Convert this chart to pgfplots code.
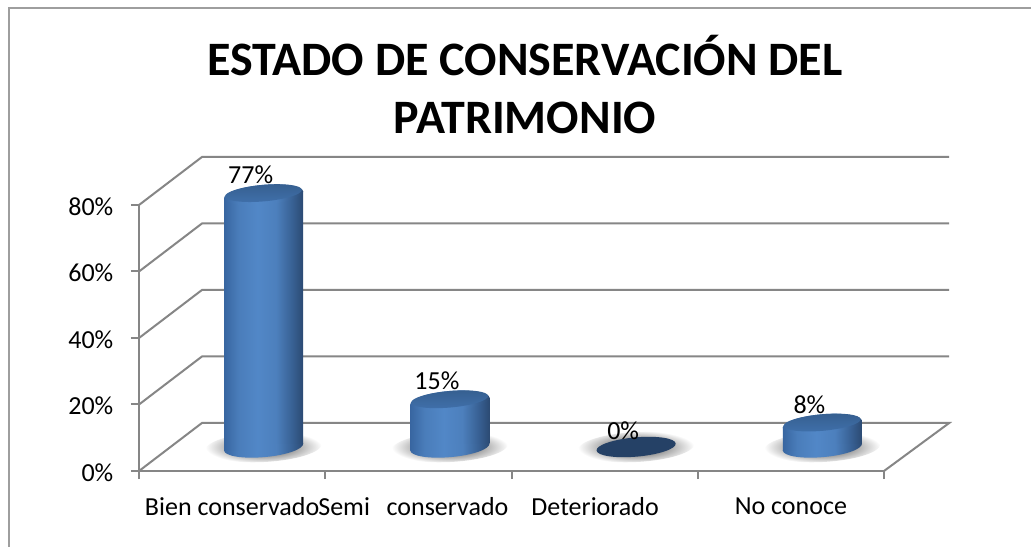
\documentclass[border=0pt]{standalone}
\usepackage{pgfplots}
\pgfplotsset{compat=1.18}
\usepackage{fontspec}
\setmainfont{Carlito}
\pgfkeys{/pgf/number format/assume math mode=true}
\definecolor{gridc}{HTML}{868686}
\definecolor{zerodark}{HTML}{254166}
\pgfdeclarehorizontalshading{cylbody}{100bp}{%
 rgb(0bp)=(0.22,0.40,0.63);
 rgb(25bp)=(0.22,0.40,0.63);
 rgb(34bp)=(0.29,0.49,0.73);
 rgb(46bp)=(0.32,0.53,0.78);
 rgb(58bp)=(0.30,0.50,0.74);
 rgb(68bp)=(0.22,0.38,0.58);
 rgb(75bp)=(0.17,0.29,0.45);
 rgb(100bp)=(0.17,0.29,0.45)}
\pgfdeclarehorizontalshading{cylleft}{100bp}{%
 rgb(0bp)=(0.22,0.40,0.63);
 rgb(25bp)=(0.22,0.40,0.63);
 rgb(43bp)=(0.29,0.49,0.73);
 rgb(67bp)=(0.32,0.53,0.78);
 rgb(75bp)=(0.313,0.52,0.767);
 rgb(100bp)=(0.313,0.52,0.767)}
\pgfdeclarehorizontalshading{cylright}{100bp}{%
 rgb(0bp)=(0.313,0.52,0.767);
 rgb(25bp)=(0.313,0.52,0.767);
 rgb(41bp)=(0.30,0.50,0.74);
 rgb(61bp)=(0.22,0.38,0.58);
 rgb(75bp)=(0.17,0.29,0.45);
 rgb(100bp)=(0.17,0.29,0.45)}
\pgfdeclareverticalshading{topface}{100bp}{%
 rgb(0bp)=(0.25,0.44,0.67);
 rgb(25bp)=(0.25,0.44,0.67);
 rgb(75bp)=(0.21,0.37,0.56);
 rgb(100bp)=(0.21,0.37,0.56)}
\pgfdeclareradialshading{shadow}{\pgfpointorigin}{%
 rgb(0bp)=(0.55,0.55,0.55);
 rgb(13bp)=(0.62,0.62,0.62);
 rgb(25bp)=(1,1,1);
 rgb(50bp)=(1,1,1)}
% marks: tilted ellipses, given by their axis vectors
\pgfdeclareplotmark{cylshadow}{%
 \begin{pgfscope}
 \pgfpathellipse{\pgfpointorigin}{\pgfpoint{43.44pt}{2.28pt}}{\pgfpoint{-0.59pt}{11.23pt}}%
 \pgfshadepath{shadow}{0}\pgfusepath{discard}
 \end{pgfscope}}
\pgfdeclareplotmark{cylbase}{%
 \begin{pgfscope}
 \pgfpathellipse{\pgfpointorigin}{\pgfpoint{29.69pt}{2.6pt}}{\pgfpoint{-0.66pt}{7.57pt}}%
 \pgfshadepath{cylbody}{0}\pgfusepath{discard}
 \end{pgfscope}}
\pgfdeclareplotmark{cyltop}{%
 \begin{pgfscope}
 \pgfpathellipse{\pgfpointorigin}{\pgfpoint{29.69pt}{2.6pt}}{\pgfpoint{-0.66pt}{7.57pt}}%
 \pgfshadepath{cylbody}{0}\pgfusepath{discard}
 \end{pgfscope}
 \begin{pgfscope}
 \pgfpathellipse{\pgfpoint{-0.12pt}{1.39pt}}{\pgfpoint{28.79pt}{2.52pt}}{\pgfpoint{-0.54pt}{6.18pt}}%
 \pgfshadepath{topface}{0}\pgfusepath{discard}
 \end{pgfscope}}
\pgfdeclareplotmark{cylzero}{%
 \begin{pgfscope}
 \pgfsetfillcolor{zerodark}
 \pgfpathellipse{\pgfpointorigin}{\pgfpoint{29.69pt}{2.6pt}}{\pgfpoint{-0.66pt}{7.2pt}}%
 \pgfusepath{fill}
 \end{pgfscope}}
\pgfplotsset{
 plane/.style={
  scale only axis,width=558.75pt,height=199.5pt,
  anchor=south west,
  xmin=-0.5,xmax=3.5,ymin=0,ymax=80,clip=false,
 },
 hidden/.style={plane,axis lines=none,
  at={(127.875pt,74.25pt)}},
}
\begin{document}
\begin{tikzpicture}
\useasboundingbox (0,0) rectangle (773.25pt,409.5pt);
\fill[white] (0,0) rectangle (773.25pt,409.5pt);
% frame of the chart
\draw[gridc!80,line width=1.5pt] (6.75pt,-2pt) -- (6.75pt,403.5pt) -- (775pt,403.5pt);
% title
\node[font=\fontsize{36pt}{43.5pt}\selectfont\bfseries,align=center,anchor=center] at (393.75pt,345.75pt)
  {ESTADO DE CONSERVACIÓN DEL\\PATRIMONIO};
% front plane with ticks and walls
\begin{axis}[plane,at={(104.25pt,56.25pt)},
  axis line style={gridc,line width=1.5pt},
  axis x line*=bottom,axis y line*=left,
  x axis line style={-},y axis line style={-},
  tick style={gridc,line width=1.5pt},
  xtick={-0.5,0.5,1.5,2.5,3.5},xticklabels={},
  ytick={0,20,40,60,80},
  yticklabel={\pgfmathprintnumber{\tick}\%},
  yticklabel style={font=\fontsize{19.5pt}{22pt}\selectfont,xshift=-9.75pt,yshift=-1pt},
  tick align=outside,
  major tick length=6pt,
  extra x ticks={0,1,2,3},
  extra x tick labels={Bien conservado,Semi\hspace{12.5pt}conservado\hspace{7.5pt}\mbox{},Deteriorado\hspace{14.25pt}\mbox{},No conoce},
  extra x tick style={major tick length=0pt,tick style={draw=none},
    xticklabel style={font=\fontsize{19.5pt}{22pt}\selectfont,anchor=center,yshift=-26.75pt}},
]
\addplot[gridc,line width=1.5pt] coordinates {(-0.5,0)  (-0.162,14.44) (3.85,14.44) (3.5,0)};
\addplot[gridc,line width=1.5pt] coordinates {(-0.5,20) (-0.162,34.44) (3.85,34.44)};
\addplot[gridc,line width=1.5pt] coordinates {(-0.5,40) (-0.162,54.44) (3.85,54.44)};
\addplot[gridc,line width=1.5pt] coordinates {(-0.5,60) (-0.162,74.44) (3.85,74.44)};
\addplot[gridc,line width=1.5pt] coordinates {(-0.5,80) (-0.162,94.44) (3.85,94.44)};
\end{axis}
% shadows and base ellipses
\begin{axis}[hidden]
\addplot[only marks,mark=cylshadow] coordinates {(0,0)(1,0)(2,0)(3,0)};
\addplot[only marks,mark=cylbase] coordinates {(0,0)(1,0)(3,0)};
\addplot[only marks,mark=cylzero] coordinates {(2,0)};
\end{axis}
% bodies: left half of each cylinder
\begin{axis}[plane,axis lines=none,at={(127.875pt,71.625pt)},
  ymin=1.2,ymax=81.2,
  ybar,bar width=29.9pt]
\addplot[draw=none,shading=cylleft,bar shift=-14.7pt] coordinates {(0,77)};
\addplot[draw=none,shading=cylleft,bar shift=-14.7pt] coordinates {(1,15)};
\addplot[draw=none,shading=cylleft,bar shift=-14.7pt] coordinates {(3,8)};
\end{axis}
% bodies: right half of each cylinder
\begin{axis}[plane,axis lines=none,at={(127.875pt,76.875pt)},
  ymin=1.2,ymax=81.2,
  ybar,bar width=29.9pt]
\addplot[draw=none,shading=cylright,bar shift=14.7pt] coordinates {(0,77)};
\addplot[draw=none,shading=cylright,bar shift=14.7pt] coordinates {(1,15)};
\addplot[draw=none,shading=cylright,bar shift=14.7pt] coordinates {(3,8)};
\end{axis}
% tops and labels
\begin{axis}[plane,axis lines=none,at={(127.875pt,71.25pt)}]
\addplot[only marks,mark=cyltop] coordinates {(0,77)(1,15)(3,8)};
\addplot[only marks,mark=none,draw=none,
  nodes near coords={\pgfmathprintnumber{\pgfplotspointmeta}\%},
  every node near coord/.style={font=\fontsize{19.5pt}{22pt}\selectfont,anchor=center,xshift=-9.75pt,yshift=15pt},
  point meta=y] coordinates {(0,77)(1,15)(2,0)(3,8)};
\end{axis}
\end{tikzpicture}
\end{document}
